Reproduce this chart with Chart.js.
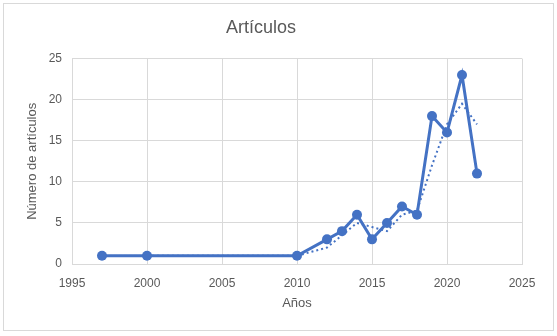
<!DOCTYPE html>
<html>
<head>
<meta charset="utf-8">
<script src="https://cdn.jsdelivr.net/npm/chart.js@4/dist/chart.umd.min.js"></script>
<style>
  html, body { margin: 0; padding: 0; background: #fff; }
  #wrap { position: relative; width: 557px; height: 336px; }
</style>
</head>
<body>
<div id="wrap"><canvas id="chart" width="557" height="336"></canvas></div>
<script>
// Artículos por año
const years = [1997, 2000, 2010, 2012, 2013, 2014, 2015, 2016, 2017, 2018, 2019, 2020, 2021, 2022]
const articles = [1, 1, 1, 3, 4, 6, 3, 5, 7, 6, 18, 16, 23, 11]

// Línea de tendencia punteada (media móvil de 2 periodos)
const trendYears = [2000, 2010, 2012, 2013, 2014, 2015, 2016, 2017, 2018, 2019, 2020, 2021, 2022]
const trendValues = [1, 1, 2, 3.5, 5, 4.5, 4, 6, 6.5, 12, 17, 19.5, 17]

const blue = '#4472C4'
const grey = '#595959'
const gridGrey = '#d9d9d9'
const fontFamily = "'Liberation Sans', Arial, sans-serif"

// Borde exterior del gráfico
const frame = {
  id: 'frame',
  afterDraw(chart) {
    const { ctx } = chart
    ctx.save()
    ctx.strokeStyle = gridGrey
    ctx.lineWidth = 1
    ctx.strokeRect(3.5, 3.5, 550, 327)
    ctx.restore()
  }
}

new Chart(document.getElementById('chart'), {
  type: 'scatter',
  data: {
    datasets: [
      {
        label: 'Artículos',
        data: years.map((y, i) => ({ x: y, y: articles[i] })),
        showLine: true,
        borderColor: blue,
        backgroundColor: blue,
        borderWidth: 3,
        pointRadius: 5,
        pointBorderWidth: 0,
        pointHoverRadius: 5,
        order: 1
      },
      {
        label: 'Tendencia',
        data: trendYears.map((y, i) => ({ x: y, y: trendValues[i] })),
        showLine: true,
        borderColor: blue,
        borderWidth: 2,
        borderDash: [2, 3],
        pointRadius: 0,
        order: 2
      }
    ]
  },
  options: {
    responsive: false,
    animation: false,
    layout: { padding: { left: 0, right: 35, top: 0, bottom: 0 } },
    plugins: {
      legend: { display: false },
      tooltip: { enabled: false },
      title: {
        display: true,
        text: 'Artículos',
        color: grey,
        font: { family: fontFamily, size: 18, weight: 'normal' },
        padding: { top: 17, bottom: 20 }
      }
    },
    scales: {
      x: {
        type: 'linear',
        min: 1995,
        max: 2025,
        afterFit: (scale) => { scale.height = 72 },
        grid: { color: gridGrey, drawTicks: false },
        border: { color: gridGrey },
        ticks: {
          stepSize: 5,
          color: grey,
          padding: 12,
          font: { family: fontFamily, size: 12 },
          callback: (v) => String(v)
        },
        title: {
          display: true,
          text: 'Años',
          color: grey,
          font: { family: fontFamily, size: 13 },
          padding: { top: 0, bottom: 25 }
        }
      },
      y: {
        min: 0,
        max: 25,
        afterFit: (scale) => { scale.width = 72 },
        grid: { color: gridGrey, drawTicks: false },
        border: { color: gridGrey },
        ticks: {
          stepSize: 5,
          color: grey,
          padding: 10,
          font: { family: fontFamily, size: 12 }
        },
        title: {
          display: true,
          text: 'Número de artículos',
          color: grey,
          font: { family: fontFamily, size: 13 },
          padding: { top: 25, bottom: 0 }
        }
      }
    }
  },
  plugins: [frame]
})
</script>
</body>
</html>
